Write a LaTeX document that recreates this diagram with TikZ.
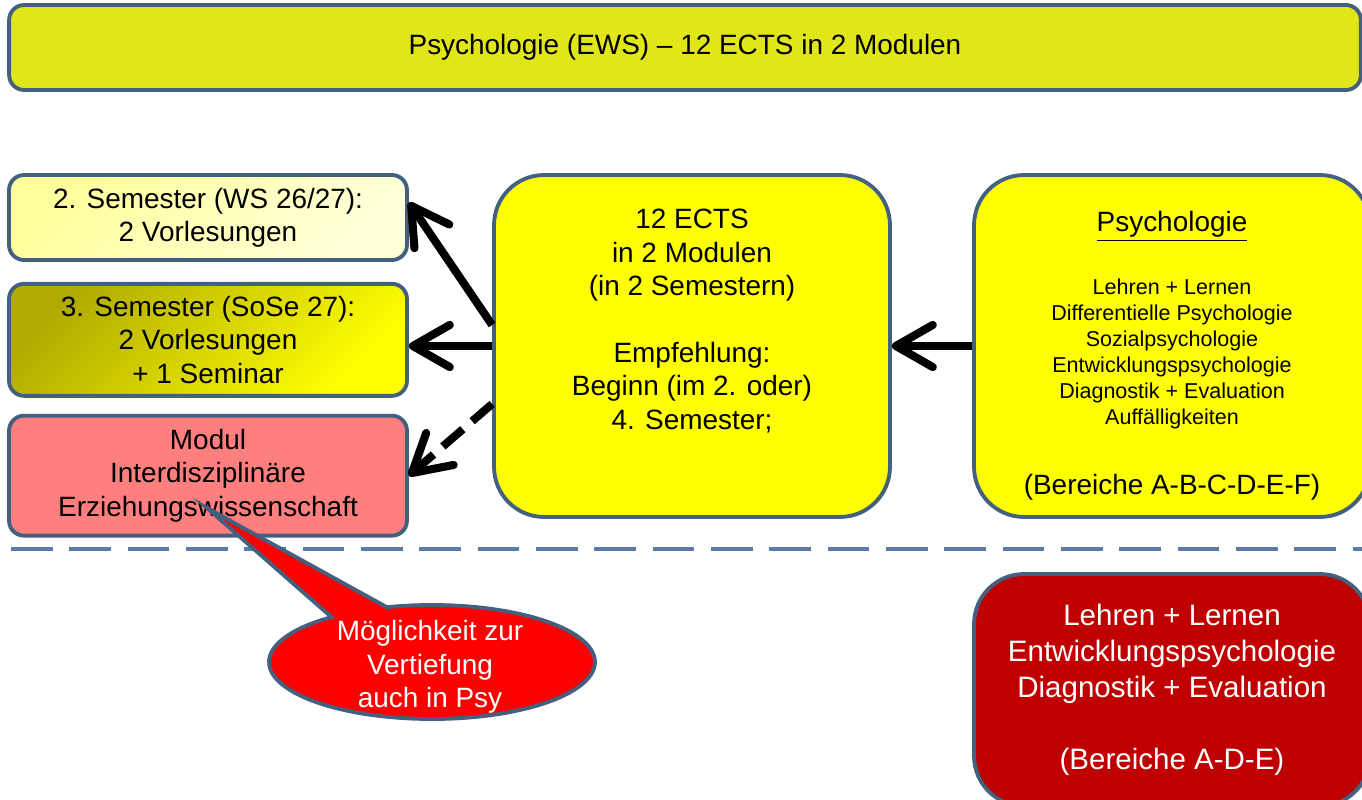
\documentclass[tikz,border=0pt]{standalone}
\usepackage{fontspec}
\setmainfont{Liberation Sans}
\usepackage{tikz}
\usetikzlibrary{
  arrows.meta,
  positioning,
  calc,
  shapes.callouts
}
\definecolor{framecolor}{HTML}{44607F}
\definecolor{sepcolor}{HTML}{5B7CA8}
\definecolor{barcolor}{HTML}{E1E619}
\definecolor{semlight}{HTML}{FFFF9C}
\definecolor{semlightend}{HTML}{FFFFDA}
\definecolor{semolive}{HTML}{B0AB00}
\definecolor{semmid}{HTML}{DEDC00}
\definecolor{modulcolor}{HTML}{FF7F7F}
\definecolor{ectscolor}{HTML}{FFFF00}
\definecolor{focuscolor}{HTML}{C00000}
\definecolor{bubblecolor}{HTML}{FF0000}
\newcommand{\bigtxt}{\fontsize{15.9}{19}\selectfont}
\newcommand{\smalltxt}{\fontsize{12.25}{14.85}\selectfont}
\newcommand{\redtxt}{\fontsize{16.8}{20.4}\selectfont}

\begin{document}
\begin{tikzpicture}[
  x=0.02cm, y=-0.02cm,
  box/.style={
    draw=framecolor, line width=2.2pt, rounded corners=0.3cm,
    align=center, font=\bigtxt, inner sep=0pt
  },
  sembox/.style={box, minimum width=7.96cm},
  bigbox/.style={
    box, rounded corners=1cm,
    minimum width=7.92cm, minimum height=6.84cm
  },
  txt/.style={align=center, font=\bigtxt, inner sep=0pt},
  flow/.style={-{Straight Barb[length=21pt, width=24pt, round]}, line width=4.6pt},
  maybe/.style={flow, dash pattern=on 15pt off 7pt},
  sep/.style={draw=sepcolor, line width=2.8pt, dash pattern=on 23.8pt off 9.4pt}
]
  \useasboundingbox (0,0) rectangle (1362,800);
  \clip (0,0) rectangle (1362,800);

  % ── Title bar ──
  \node[box, fill=barcolor, minimum width=27.04cm, minimum height=1.7cm] (title)
    at (685,47.5) {Psychologie (EWS) – 12 ECTS in 2 Modulen};

  % ── Semester column ──
  \node[sembox, minimum height=1.7cm,
    top color=semlight, bottom color=semlightend, shading angle=45] (sem2)
    at (208,217.5) {2. Semester (WS 26/27):\\2 Vorlesungen};
  \node[sembox, minimum height=2.24cm, below=0.4cm of sem2,
    top color=semolive, middle color=semmid, bottom color=ectscolor, shading angle=45] (sem3)
    {3. Semester (SoSe 27):\\2 Vorlesungen\\+ 1 Seminar};
  \node[sembox, minimum height=2.4cm, below=0.32cm of sem3, fill=modulcolor] (modul)
    {Modul\\Interdisziplinäre\\Erziehungswissenschaft};

  % ── Centre box ──
  \node[bigbox, fill=ectscolor] (ects) at (692,346) {};
  \node[txt] (ectsTxt) at (692,321)
    {12 ECTS\\in 2 Modulen\\(in 2 Semestern)\\[19pt]Empfehlung:\\Beginn (im 2. oder)\\4. Semester;};

  % ── Psychologie areas ──
  \node[bigbox, fill=ectscolor] (psy) at (1172,346) {};
  \node[txt, anchor=base] (psyHead) at (1172,232) {\underline{Psychologie}};
  \node[txt, font=\smalltxt] (psyList) at (1172,354)
    {Lehren + Lernen\\Differentielle Psychologie\\Sozialpsychologie\\%
     Entwicklungspsychologie\\Diagnostik + Evaluation\\Auffälligkeiten};
  \node[txt] (psyArea) at (1172,487) {(Bereiche A-B-C-D-E-F)};

  % ── Arrows ──
  \draw[flow] ($(ects.west)+(0,-21)$) -- ($(sem2.east)+(0,-15)$);
  \draw[flow] (ects.west) -- (ects.west -| sem3.east);
  \draw[maybe] ($(ects.west)+(0,58)$) -- (modul.east);
  \draw[flow] (psy.west) -- (ects.east);

  % ── Separator ──
  \coordinate (sepL) at (11,549);
  \coordinate (sepR) at (1362,549);
  \draw[sep] (sepL) -- (sepR);

  % ── Focus areas ──
  \node[bigbox, fill=focuscolor, minimum height=4.64cm, text=white, font=\redtxt] (focus)
    at (1172,690)
    {Lehren + Lernen\\Entwicklungspsychologie\\Diagnostik + Evaluation\\[20.4pt](Bereiche A-D-E)};

  % ── Callout ──
  \coordinate (hintTip) at (207,508);
  \node[ellipse callout, draw=framecolor, line width=2.2pt, fill=bubblecolor,
    minimum width=6.52cm, minimum height=2.28cm,
    callout absolute pointer={(hintTip)}, callout pointer arc=22] (hint)
    at (432,662) {};
  \node[txt, text=white] (hintTxt) at (430,667) {Möglichkeit zur\\Vertiefung\\auch in Psy};

\end{tikzpicture}
\end{document}
